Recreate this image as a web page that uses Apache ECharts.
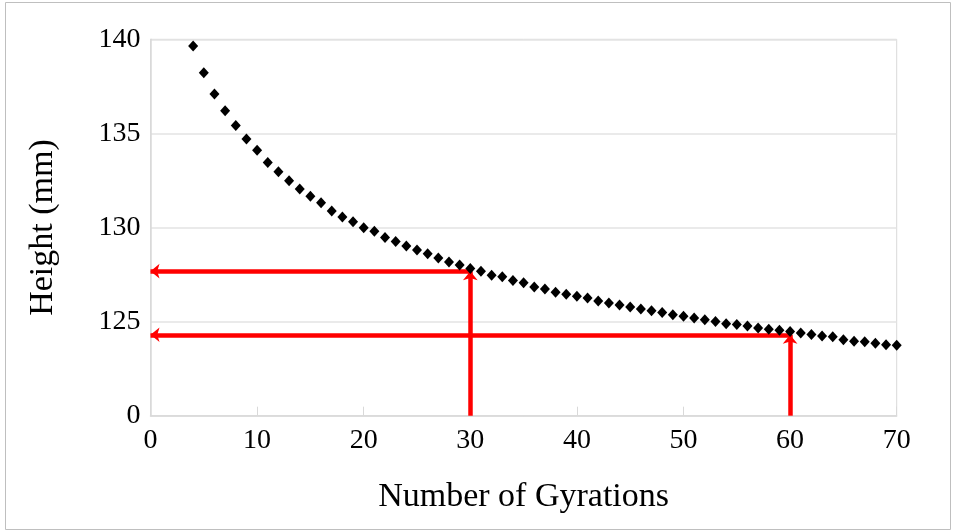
<!DOCTYPE html>
<html>
<head>
<meta charset="utf-8">
<script src="https://cdn.jsdelivr.net/npm/echarts@6/dist/echarts.min.js"></script>
<style>
  html, body { margin: 0; padding: 0; background: #fff; }
  #chart { width: 954px; height: 531px; }
</style>
</head>
<body>
<div id="chart"></div>
<script>
// gyrations 4..70 and measured height (mm)
const gyrations = [
  4, 5, 6, 7, 8, 9, 10, 11, 12, 13, 14, 15, 16, 17, 18, 19, 20, 21, 22, 23, 24, 25,
  26, 27, 28, 29, 30, 31, 32, 33, 34, 35, 36, 37, 38, 39, 40, 41, 42, 43, 44, 45, 46, 47,
  48, 49, 50, 51, 52, 53, 54, 55, 56, 57, 58, 59, 60, 61, 62, 63, 64, 65, 66, 67, 68, 69, 70
];
const heights = [
  139.64, 138.22, 137.09, 136.2, 135.42, 134.7, 134.1, 133.46, 132.96, 132.48, 132.04,
  131.66, 131.31, 130.88, 130.56, 130.3, 129.99, 129.8, 129.47, 129.26, 129.02, 128.8,
  128.6, 128.38, 128.17, 128.01, 127.82, 127.67, 127.46, 127.38, 127.18, 127.07, 126.84,
  126.73, 126.56, 126.45, 126.35, 126.26, 126.1, 125.99, 125.88, 125.78, 125.67, 125.58,
  125.48, 125.37, 125.28, 125.19, 125.1, 125.01, 124.89, 124.84, 124.77, 124.66, 124.59,
  124.54, 124.48, 124.4, 124.31, 124.23, 124.2, 124.04, 123.96, 123.93, 123.85, 123.77, 123.75
];
// red reading arrows: gyration -> height
const readGyr = [30, 60];
const readHeight = [127.68, 124.3];
const yBase = 120; // bottom of the (broken) axis, labelled "0"

const points = gyrations.map((g, i) => [g, heights[i]]);

const arrowLines = [];
readGyr.forEach((g, i) => {
  arrowLines.push([{ coord: [g, yBase] }, { coord: [g, readHeight[i]] }]);
  arrowLines.push([{ coord: [g, readHeight[i]] }, { coord: [0, readHeight[i]] }]);
});

const chart = echarts.init(document.getElementById('chart'));
const font = 'Liberation Serif';

chart.setOption({
  animation: false,
  graphic: [{
    type: 'rect',
    shape: { x: 5.5, y: 2.5, width: 945, height: 527 },
    style: { fill: 'none', stroke: '#bfbfbf', lineWidth: 1 },
    silent: true
  }],
  grid: {
    left: 150.5, right: 57.3, top: 39.3, bottom: 115.3,
    show: true, borderColor: '#d9d9d9', borderWidth: 1
  },
  xAxis: {
    type: 'value',
    min: 0, max: 70, interval: 10,
    name: 'Number of Gyrations',
    nameLocation: 'middle',
    nameGap: 64,
    nameTextStyle: { fontFamily: font, fontSize: 34, color: '#000' },
    axisLine: { lineStyle: { color: '#d9d9d9', width: 1.5 } },
    axisTick: { show: true, inside: true, length: 9, lineStyle: { color: '#d9d9d9' } },
    axisLabel: { fontFamily: font, fontSize: 28, color: '#000', margin: 11 },
    splitLine: { show: false }
  },
  yAxis: {
    type: 'value',
    min: yBase, max: 140, interval: 5,
    name: 'Height (mm)',
    nameLocation: 'middle',
    nameGap: 90,
    nameTextStyle: { fontFamily: font, fontSize: 34, color: '#000' },
    axisLine: { show: true, lineStyle: { color: '#d9d9d9', width: 1.5 } },
    axisTick: { show: false },
    axisLabel: {
      fontFamily: font, fontSize: 28, color: '#000', margin: 10,
      formatter: v => (v === yBase ? '0' : String(v))
    },
    splitLine: { lineStyle: { color: '#e3e3e3', width: 1.5 } }
  },
  series: [{
    type: 'scatter',
    data: points,
    symbol: 'diamond',
    symbolSize: [10, 11],
    itemStyle: { color: '#000', opacity: 1 },
    z: 3,
    markLine: {
      silent: true,
      symbol: ['none', 'arrow'],
      symbolSize: [11, 9],
      label: { show: false },
      lineStyle: { color: '#ff0000', width: 4.5, type: 'solid', opacity: 1 },
      data: arrowLines,
      z: 2
    }
  }]
});
</script>
</body>
</html>
